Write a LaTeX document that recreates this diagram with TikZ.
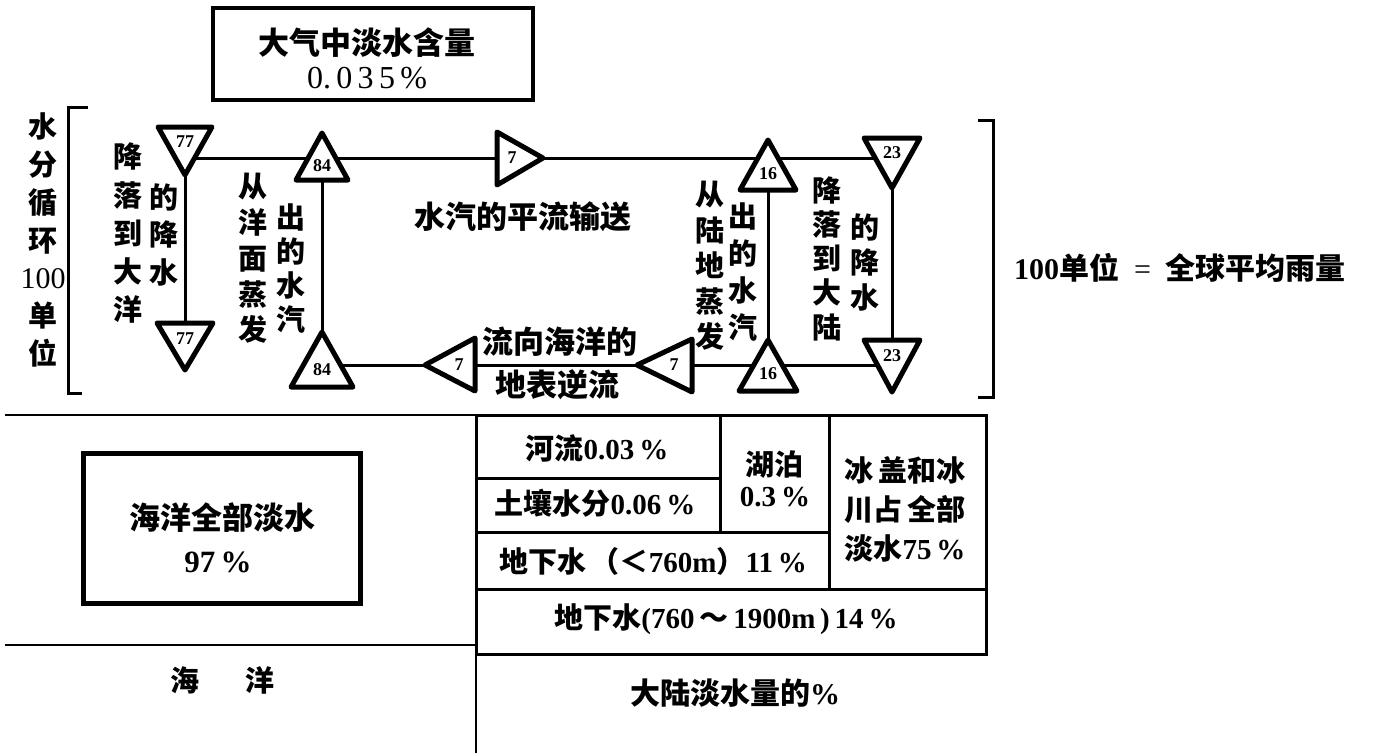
\documentclass[tikz,border=0pt]{standalone}
\usepackage{fontspec}
\setmainfont{Liberation Serif}
\newfontfamily\cjk{Noto Sans CJK SC}
\begin{document}
\begin{tikzpicture}[x=1pt,y=-1pt,
  conn/.style={line width=3pt},
  rule/.style={line width=2.6pt},
  tri/.style={draw,line width=5pt,line join=round,fill=white},
  num/.style={font=\bfseries\fontsize{18}{18}\selectfont,inner sep=0pt},
  vcol/.style={align=center,inner sep=0pt},
  txt/.style={inner sep=0pt,font=\bfseries\fontsize{28}{34}\selectfont},
  bigbox/.style={draw,line width=4.5pt,inner sep=0pt},
  cell/.style={draw,line width=3pt,inner sep=0pt}]
\useasboundingbox (0,0) rectangle (1375,753);
\fill[white] (0,0) rectangle (1375,753);

% ---------- atmosphere box ----------
\node[bigbox,minimum width=320,minimum height=92] (atm) at (373,54) {};
\node[txt,font=\cjk\bfseries\fontsize{31}{34}\selectfont] (atmt) at (367,43) {大气中淡水含量};
\node[txt,font=\mdseries\fontsize{32}{34}\selectfont] (atmn) at (367,78) {0.\,0\,3\,5\,\%};

% ---------- brackets ----------
\coordinate (lb1) at (88,107); \coordinate (lb2) at (68,107);
\coordinate (lb3) at (68,393); \coordinate (lb4) at (82,393);
\draw[line width=3pt] (lb1) -- (lb2) -- (lb3) -- (lb4);
\coordinate (rb1) at (978,120); \coordinate (rb2) at (993,120);
\coordinate (rb3) at (993,397); \coordinate (rb4) at (978,397);
\draw[line width=3pt] (rb1) -- (rb2) -- (rb3) -- (rb4);

\node[vcol,font=\cjk\bfseries\fontsize{29}{37.7}\selectfont] (lcol) at (43,240)
  {水\\分\\循\\环\\{\rmfamily\mdseries\fontsize{30}{30}\selectfont 100}\\单\\位};
\node[txt,font=\bfseries\fontsize{30}{34}\selectfont] (unit) at (1180,268) {100{\cjk 单位}\ \ {\mdseries =}\ \ {\cjk 全球平均雨量}};

% ---------- triangle centres / junctions ----------
\coordinate (c77a) at (185,158);
\coordinate (c77b) at (185,340);
\coordinate (c84a) at (322,158);
\coordinate (c84b) at (322,365);
\coordinate (c16a) at (768,158);
\coordinate (c16b) at (768,365);
\coordinate (c23a) at (892,158);
\coordinate (c23b) at (892,365);

% connectors
\draw[conn] (c77a) -- (c23a);
\draw[conn] (c84b) -- (c23b);
\draw[conn] (c77a) -- (c77b);
\draw[conn] (c84a) -- (c84b);
\draw[conn] (c16a) -- (c16b);
\draw[conn] (c23a) -- (c23b);

% triangles
\draw[tri] (158,127) -- (212,127) -- (185,175) -- cycle;
\draw[tri] (157,323) -- (213,323) -- (185,370) -- cycle;
\draw[tri] (322,133) -- (348,180) -- (296,180) -- cycle;
\draw[tri] (322,332) -- (353,387) -- (291,387) -- cycle;
\draw[tri] (497,132) -- (543,158) -- (497,185) -- cycle;
\draw[tri] (475,338) -- (475,391) -- (425,365) -- cycle;
\draw[tri] (692,339) -- (692,392) -- (637,365) -- cycle;
\draw[tri] (768,140) -- (796,190) -- (740,190) -- cycle;
\draw[tri] (768,340) -- (797,391) -- (739,391) -- cycle;
\draw[tri] (864,138) -- (920,138) -- (892,188) -- cycle;
\draw[tri] (864,340) -- (920,340) -- (892,392) -- cycle;

\node[num] (n77a) at (185,142) {77};
\node[num] (n77b) at (185,339) {77};
\node[num] (n84a) at (322,166) {84};
\node[num] (n84b) at (322,370) {84};
\node[num] (n7a)  at (512,158) {7};
\node[num] (n7b)  at (459,365) {7};
\node[num] (n7c)  at (674,365) {7};
\node[num] (n16a) at (768,174) {16};
\node[num] (n16b) at (768,374) {16};
\node[num] (n23a) at (892,153) {23};
\node[num] (n23b) at (892,356) {23};

% vertical labels
\node[vcol,font=\cjk\bfseries\fontsize{29}{38.25}\selectfont] (v1) at (128,233.5) {降\\落\\到\\大\\洋};
\node[vcol,font=\cjk\bfseries\fontsize{29}{37.5}\selectfont] (v2) at (164,234.5) {的\\降\\水};
\node[vcol,font=\cjk\bfseries\fontsize{29}{35.75}\selectfont] (v3) at (253,258.5) {从\\洋\\面\\蒸\\发};
\node[vcol,font=\cjk\bfseries\fontsize{29}{34.3}\selectfont] (v4) at (291,268.5) {出\\的\\水\\汽};
\node[vcol,font=\cjk\bfseries\fontsize{29}{35.5}\selectfont] (v5) at (710,266) {从\\陆\\地\\蒸\\发};
\node[vcol,font=\cjk\bfseries\fontsize{29}{36.7}\selectfont] (v6) at (743,272) {出\\的\\水\\汽};
\node[vcol,font=\cjk\bfseries\fontsize{29}{34.25}\selectfont] (v7) at (827,258.5) {降\\落\\到\\大\\陆};
\node[vcol,font=\cjk\bfseries\fontsize{29}{35}\selectfont] (v8) at (865,262) {的\\降\\水};

% horizontal labels
\node[txt,font=\cjk\bfseries\fontsize{31}{34}\selectfont] (adv) at (523,217) {水汽的平流输送};
\node[txt,font=\cjk\bfseries\fontsize{31}{34}\selectfont] (ret1) at (560,342) {流向海洋的};
\node[txt,font=\cjk\bfseries\fontsize{31}{34}\selectfont] (ret2) at (557,385) {地表逆流};

% ---------- dividing rules ----------
\coordinate (h1a) at (5,415);   \coordinate (h1b) at (986,415);
\coordinate (va) at (476,415);  \coordinate (vb) at (476,753);
\coordinate (h2a) at (5,645);   \coordinate (h2b) at (476,645);
\draw[rule] (h1a) -- (h1b);
\draw[rule] (va) -- (vb);
\draw[rule] (h2a) -- (h2b);

% ---------- ocean ----------
\node[bigbox,line width=5pt,minimum width=277,minimum height=150] (ocean) at (221.5,528) {};
\node[txt,font=\cjk\bfseries\fontsize{31}{34}\selectfont] (oceant) at (222,518) {海洋全部淡水};
\node[txt,font=\bfseries\fontsize{31}{34}\selectfont] (oceann) at (218,562) {97\,\%};
\node[txt,font=\cjk\bfseries\fontsize{29}{34}\selectfont] (hai) at (185,680) {海};
\node[txt,font=\cjk\bfseries\fontsize{29}{34}\selectfont] (yang) at (260,680) {洋};

% ---------- continental fresh water table ----------
\node[cell,minimum width=244,minimum height=63] (river) at (598,446.5) {};
\node[cell,minimum width=244,minimum height=54] (soil) at (598,505) {};
\node[cell,minimum width=109,minimum height=117] (lake) at (774.5,473.5) {};
\node[cell,minimum width=157,minimum height=174] (ice) at (907.5,502) {};
\node[cell,minimum width=353,minimum height=57] (gw1) at (652.5,560.5) {};
\node[cell,minimum width=510,minimum height=65] (gw2) at (731,621.5) {};

\node[txt,font=\bfseries\fontsize{29}{34}\selectfont] (rivert) at (597,448) {{\cjk 河流}0.03\,\%};
\node[txt,font=\bfseries\fontsize{29}{34}\selectfont] (soilt) at (595,503) {{\cjk 土壤水分}0.06\,\%};
\node[txt,font=\cjk\bfseries\fontsize{29}{34}\selectfont] (laket) at (774,465) {湖泊};
\node[txt,font=\bfseries\fontsize{29}{34}\selectfont] (laken) at (775,497) {0.3\,\%};
\node[vcol,font=\bfseries\fontsize{29}{39}\selectfont] (icet) at (905,509)
  {{\cjk 冰\,盖和冰}\\{\cjk 川占\,全部}\\{\cjk 淡水}75\,\%};
\node[txt,font=\bfseries\fontsize{29}{34}\selectfont] (gw1t) at (653,561) {{\cjk 地下水\,（＜}760m{\cjk ）}11\,\%};
\node[txt,font=\bfseries\fontsize{29}{34}\selectfont] (gw2t) at (726,619) {{\cjk 地下水}(760\,{\cjk ～}\,1900m\,)\,14\,\%};
\node[txt,font=\cjk\bfseries\fontsize{30}{34}\selectfont] (cont) at (735,693) {大陆淡水量的{\rmfamily\%}};
\end{tikzpicture}
\end{document}
